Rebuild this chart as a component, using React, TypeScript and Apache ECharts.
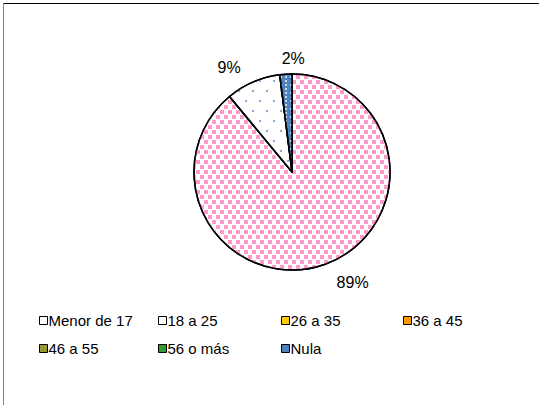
import React, { useEffect, useRef } from "react";
import * as echarts from "echarts";

const categories = ["Menor de 17", "18 a 25", "26 a 35", "36 a 45", "46 a 55", "56 o más", "Nula"];
const values = [89, 9, 0, 0, 0, 0, 2];
const legendColors = ["#ffffff", "#ffffff", "#ffcc00", "#ff9900", "#999933", "#339933", "#4f81bd"];

const FONT = "'Liberation Sans', Arial, sans-serif";

export default function App() {
  const ref = useRef<HTMLDivElement>(null);
  useEffect(() => {
    document.body.style.margin = "0";
    const chart = echarts.init(ref.current!, null, { renderer: "svg" });

    const sliceStyles: any[] = [
      {
        color: "#ffffff",
        borderColor: "#000",
        borderWidth: 1.5,
        decal: {
          symbol: "rect",
          symbolSize: 1,
          color: "#ff99cc",
          dashArrayX: [[3.6, 3.6], [0, 3.6, 3.6, 0]],
          dashArrayY: [3.6, 0.6],
        },
      },
      {
        color: "#ffffff",
        borderColor: "#000",
        borderWidth: 1.5,
        decal: {
          symbol: "circle",
          symbolSize: 1,
          color: "#6a98d4",
          dashArrayX: [[2, 12], [0, 7, 2, 5]],
          dashArrayY: [2, 8],
        },
      },
      null, null, null, null,
      {
        color: "#4f81bd",
        borderColor: "#000",
        borderWidth: 1.5,
        decal: {
          symbol: "circle",
          symbolSize: 1,
          color: "rgba(255,255,255,0.85)",
          dashArrayX: [[1.4, 3], [0, 2.2, 1.4, 0.8]],
          dashArrayY: [1.4, 1.6],
        },
      },
    ];

    const data = categories.map((name, i) => {
      const v = values[i];
      const item: any = { name, value: v };
      if (v > 0) {
        item.itemStyle = sliceStyles[i];
      } else {
        item.itemStyle = { color: legendColors[i], borderWidth: 0 };
        item.label = { show: false };
        item.labelLine = { show: false };
      }
      return item;
    });

    const legendPos = [
      [39, 313], [158, 313], [281, 313], [403, 313],
      [39, 341], [158, 341], [281, 341],
    ];

    const legends = categories.map((name, i) => ({
      left: legendPos[i][0],
      top: legendPos[i][1],
      padding: 0,
      itemWidth: 8,
      itemHeight: 8,
      selectedMode: false,
      textStyle: { fontSize: 15, fontFamily: FONT, color: "#000", padding: [0, 0, 0, -4] },
      data: [
        {
          name,
          icon: "rect",
          itemStyle: { color: legendColors[i], borderColor: "#000", borderWidth: 1, decal: "none" },
        },
      ],
    }));

    chart.setOption({
      animation: false,
      backgroundColor: "#ffffff",
      legend: legends,
      graphic: [
        { type: "line", shape: { x1: 3, y1: 3.5, x2: 539, y2: 3.5 }, style: { stroke: "#000", lineWidth: 1 } },
        { type: "line", shape: { x1: 3.5, y1: 3, x2: 3.5, y2: 405 }, style: { stroke: "#808080", lineWidth: 1 } },
      ],
      series: [
        {
          type: "pie",
          center: [292, 172],
          radius: 98,
          startAngle: 90,
          clockwise: true,
          avoidLabelOverlap: false,
          label: {
            show: true,
            position: "outside",
            formatter: "{d}%",
            fontSize: 16,
            fontFamily: FONT,
            color: "#000",
          },
          labelLine: { show: false, length: 16, length2: 1 },
          labelLayout: (params: any) => {
            if (params.dataIndex === 6) return { dx: 26, dy: 0 };
            if (params.dataIndex === 0) return { dy: 3 };
            return {};
          },
          emphasis: { disabled: true },
          data,
        },
      ],
    });
    return () => chart.dispose();
  }, []);
  return <div ref={ref} style={{ width: 539, height: 405 }} />;
}
